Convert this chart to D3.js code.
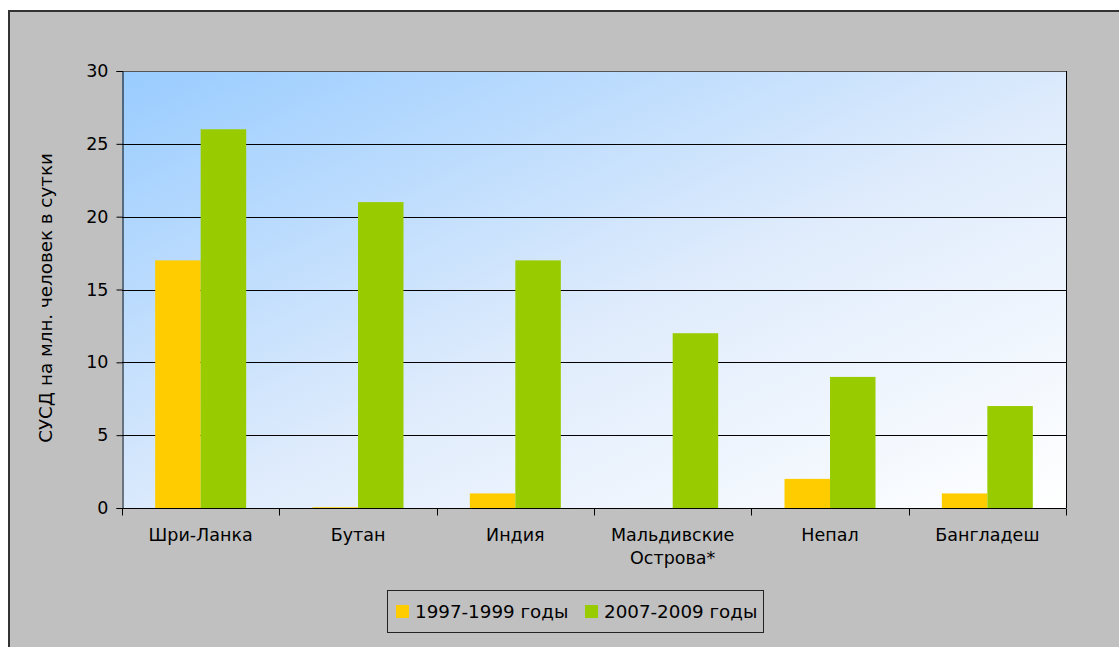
<!DOCTYPE html>
<html><head><meta charset="utf-8">
<script src="https://cdn.jsdelivr.net/npm/d3@7"></script>
<style>body{margin:0;background:#fff}svg{display:block}text{font-family:"DejaVu Sans",Verdana,sans-serif;fill:#000}</style>
</head><body><svg id="c" width="1119" height="647"></svg>
<script>
const categories = ["Шри-Ланка","Бутан","Индия","Мальдивские\nОстрова*","Непал","Бангладеш"];
const seriesNames = ["1997-1999 годы","2007-2009 годы"];
const values1997 = [17, 0.05, 1, 0, 2, 1];
const values2007 = [26, 21, 17, 12, 9, 7];
const yTicks = [0,5,10,15,20,25,30];
const colors = ["#ffcc00","#99cc00"];
const yTitle = "СУСД на млн. человек в сутки";

const svg = d3.select("#c");
const W=1119,H=647;
const m={l:122,t:71,r:1066,b:508};

const defs=svg.append("defs");
const g=defs.append("linearGradient").attr("id","bg").attr("x1","0").attr("y1","0").attr("x2","1").attr("y2","1");
g.append("stop").attr("offset","0").attr("stop-color","#99ccff");
g.append("stop").attr("offset","0.55").attr("stop-color","#e0ecfc");
g.append("stop").attr("offset","1").attr("stop-color","#ffffff");

svg.append("rect").attr("x",0).attr("y",0).attr("width",W).attr("height",H).attr("fill","#ffffff");
svg.append("rect").attr("x",9).attr("y",11).attr("width",W+20).attr("height",H+20).attr("fill","#c0c0c0").attr("stroke","#333").attr("stroke-width",2);

const x=d3.scaleBand().domain(categories).range([m.l,m.r]).paddingInner(0).paddingOuter(0);
const y=d3.scaleLinear().domain([0,30]).range([m.b,m.t]);

svg.append("rect").attr("x",m.l).attr("y",m.t).attr("width",m.r-m.l).attr("height",m.b-m.t).attr("fill","url(#bg)");

svg.append("g").selectAll("line").data(yTicks.filter(d=>d>0&&d<30)).join("line")
  .attr("x1",m.l).attr("x2",m.r).attr("y1",d=>Math.round(y(d))+0.5).attr("y2",d=>Math.round(y(d))+0.5)
  .attr("stroke","#000").attr("stroke-width",1);
svg.append("line").attr("x1",m.l).attr("x2",m.r).attr("y1",m.t+0.5).attr("y2",m.t+0.5).attr("stroke","#555");
svg.append("line").attr("x1",m.r+0.5).attr("x2",m.r+0.5).attr("y1",m.t).attr("y2",m.b).attr("stroke","#000");

const bw=45.5;
const xs=d3.scaleBand().domain([0,1]).range([0,bw*2]);
const data=[values1997,values2007];
data.forEach((vals,si)=>{
  svg.append("g").selectAll("rect").data(categories).join("rect")
    .attr("x",(c,i)=>x(c)+x.bandwidth()/2-bw+xs(si))
    .attr("width",bw)
    .attr("y",(c,i)=>y(vals[i]))
    .attr("height",(c,i)=>Math.max(0,y(0)-y(vals[i])))
    .attr("fill",colors[si]);
});

const ya=svg.append("g").attr("transform",`translate(${m.l+0.5},0)`)
  .call(d3.axisLeft(y).tickValues(yTicks).tickSize(6).tickPadding(8));
ya.select(".domain").attr("stroke","#000");
ya.selectAll("line").attr("stroke","#000");
ya.selectAll("text").style("font-size","17.5px").attr("fill","#000").attr("font-family","DejaVu Sans");

const xa=svg.append("g").attr("transform",`translate(0,${m.b+0.5})`)
  .call(d3.axisBottom(x).tickSize(0).tickFormat(""));
xa.select(".domain").attr("stroke","#000").attr("d",`M${m.l},0H${m.r}`);
const bounds=categories.map(c=>x(c)).concat([m.r]);
xa.selectAll("line.sep").data(bounds).join("line").attr("class","sep")
  .attr("x1",d=>Math.round(d)+0.5).attr("x2",d=>Math.round(d)+0.5).attr("y1",0).attr("y2",7).attr("stroke","#000");
categories.forEach(c=>{
  const lines=c.split("\n");
  const t=svg.append("text").attr("x",x(c)+x.bandwidth()/2).attr("y",541).attr("text-anchor","middle").style("font-size","17.5px");
  lines.forEach((l,i)=>t.append("tspan").attr("x",x(c)+x.bandwidth()/2).attr("dy",i?23:0).text(l));
});

svg.append("text").attr("transform","translate(52,298) rotate(-90)").attr("text-anchor","middle").style("font-size","18.3px").text(yTitle);

const lg=svg.append("g");
lg.append("rect").attr("x",387.5).attr("y",590.5).attr("width",376).attr("height",42).attr("fill","none").attr("stroke","#222").attr("stroke-width",1);
const lx=[396,585];
seriesNames.forEach((s,i)=>{
  lg.append("rect").attr("x",lx[i]).attr("y",605).attr("width",13).attr("height",13).attr("fill",colors[i]);
  lg.append("text").attr("x",lx[i]+19).attr("y",618).style("font-size","18.3px").text(s);
});
</script></body></html>
